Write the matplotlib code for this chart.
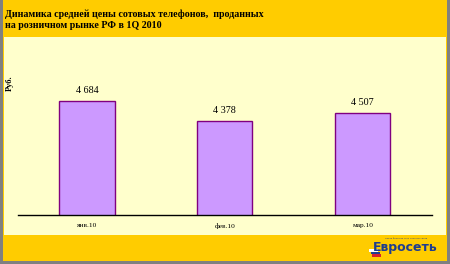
import matplotlib
matplotlib.use("Agg")
import matplotlib.pyplot as plt
from matplotlib.patches import Rectangle

months = ["янв.10", "фев.10", "мар.10"]
prices = [4684, 4378, 4507]
value_labels = ["4 684", "4 378", "4 507"]

W, H = 450, 264
fig = plt.figure(figsize=(W / 100, H / 100), dpi=100)
fig.patch.set_facecolor("#808080")


def px_rect(x0, y0, x1, y1, color, z=0):
    # rectangle in pixel coords (top-left origin)
    fig.patches.append(Rectangle((x0 / W, 1 - y1 / H), (x1 - x0) / W, (y1 - y0) / H,
                                 transform=fig.transFigure, facecolor=color,
                                 edgecolor="none", zorder=z))


px_rect(3, 0, 447, 261, "#FFCC00", -2)
px_rect(4, 37, 446, 235, "#FFFFCC", -1)

# title
fig.text(5 / W, 1 - 14 / H, "Динамика средней цены сотовых телефонов,  проданных",
         fontsize=7.2, fontweight="bold", family="Liberation Serif", va="center")
fig.text(5 / W, 1 - 26 / H, "на розничном рынке РФ в 1Q 2010",
         fontsize=7.2, fontweight="bold", family="Liberation Serif", va="center")

ax = fig.add_axes([18 / W, 49 / H, 413.7 / W, 170 / H])
ax.set_zorder(2)
ax.set_facecolor("none")
x = range(len(months))
ax.bar(x, prices, width=0.4, color="#CC99FF", edgecolor="#800080", linewidth=1)
ax.set_xlim(-0.5, 2.5)
ax.set_ylim(2940, 2940 + 170 * 15.3)

for a, b, s in zip(x, prices, value_labels):
    ax.text(a, b + 160, s, ha="center", va="center", fontsize=7.3,
            family="Liberation Serif")

ax.set_xticks(list(x))
ax.set_xticklabels(months, fontsize=5.3, family="Liberation Serif")
ax.tick_params(axis="x", length=0, pad=6)
ax.set_yticks([])
for side in ["top", "left", "right"]:
    ax.spines[side].set_visible(False)
ax.spines["bottom"].set_linewidth(1)

fig.text(10 / W, 1 - 83 / H, "Руб.", rotation=90, fontsize=6, fontweight="bold",
         family="Liberation Serif", ha="center", va="center")

# logo
fig.text(373 / W, 1 - 248 / H, "Евросеть", fontsize=9, fontweight="bold",
         color="#1F3D8F", family="DejaVu Sans", va="center")
fig.text(385 / W, 1 - 238.5 / H, "самая большая сеть салонов связи", fontsize=1.6,
         color="#1F3D8F", va="center")
for i, c in enumerate(["white", "#1F3D8F", "#D6202A"]):
    px_rect(369 + i * 1.5, 249 + i * 2.5, 378 + i * 1.5, 251.5 + i * 2.5, c)

fig.savefig("out.png", dpi=100, facecolor=fig.get_facecolor())
